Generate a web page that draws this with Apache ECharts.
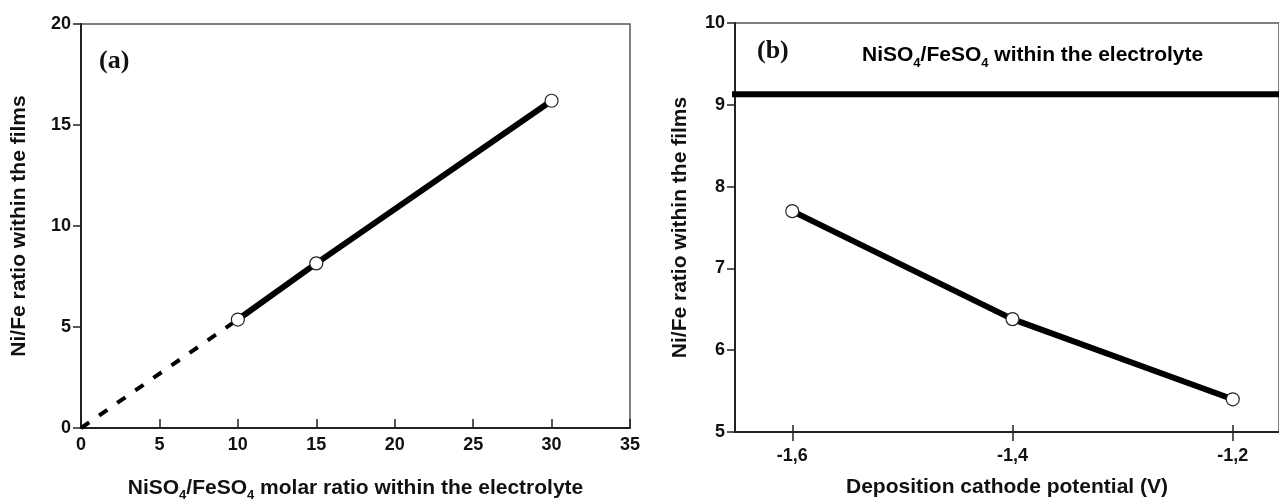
<!DOCTYPE html>
<html>
<head>
<meta charset="utf-8">
<title>NiFe films</title>
<script src="https://cdn.jsdelivr.net/npm/echarts@6/dist/echarts.min.js"></script>
<style>
  html, body { margin: 0; padding: 0; background: #fff; }
  #chart { width: 1279px; height: 500px; }
</style>
</head>
<body>
<div id="chart"></div>
<script>
  // panel (a): bath ratio vs film ratio
  var bathRatio = [10, 15, 30];
  var filmRatioA = [5.37, 8.15, 16.2];
  var dashedX = [0, 10];
  var dashedY = [0, 5.37];

  // panel (b): cathode potential vs film ratio
  var potential = [-1.6, -1.4, -1.2];
  var filmRatioB = [7.70, 6.38, 5.40];
  var potentialTicks = [-1.6, -1.4, -1.2];
  var electrolyteRatio = 9.13;
  var refLineX = [-1.656, -1.15];

  var tickFont = { color: '#111', fontSize: 18, fontWeight: 'bold', fontFamily: 'Liberation Sans Narrow, Liberation Sans, Arial' };
  var titleFont = { fontSize: 21, fontWeight: 'bold', fontFamily: 'Liberation Sans, Arial', color: '#111' };
  var rich = {
    b: { fontSize: 21, fontWeight: 'bold', fontFamily: 'Liberation Sans, Arial', color: '#111', lineHeight: 28, verticalAlign: 'middle' },
    s: { fontSize: 13, fontWeight: 'bold', fontFamily: 'Liberation Sans, Arial', color: '#111', lineHeight: 12, verticalAlign: 'bottom' }
  };

  function zip(xs, ys) {
    return xs.map(function (x, i) { return [x, ys[i]]; });
  }

  var chart = echarts.init(document.getElementById('chart'));
  chart.setOption({
    animation: false,
    grid: [
      { left: 81, right: 649, top: 24, bottom: 72, outerBoundsMode: 'none', show: true, borderColor: '#555', borderWidth: 1.5 },
      { left: 735, right: 0, top: 23, bottom: 68, outerBoundsMode: 'none', show: true, borderColor: '#555', borderWidth: 1.5 }
    ],
    xAxis: [
      {
        gridIndex: 0, type: 'value', min: 0, max: 35, interval: 5,
        splitLine: { show: false },
        axisLine: { lineStyle: { color: '#222', width: 2 } },
        axisTick: { inside: true, length: 9, lineStyle: { color: '#222', width: 1.5 } },
        axisLabel: Object.assign({}, tickFont, { margin: 8 }),
        name: '{b|NiSO}{s|4}{b|/FeSO}{s|4}{b| molar ratio within the electrolyte}',
        nameLocation: 'middle', nameGap: 46,
        nameTextStyle: { rich: rich }
      },
      {
        gridIndex: 1, type: 'value', min: -1.652, max: -1.158, position: 'bottom',
        splitLine: { show: false },
        axisLine: { lineStyle: { color: '#222', width: 2 } },
        axisTick: { customValues: potentialTicks, length: 9, lineStyle: { color: '#222', width: 1.5 } },
        axisLabel: Object.assign({}, tickFont, {
          margin: 15,
          customValues: potentialTicks,
          formatter: function (v) { return v.toFixed(1).replace('.', ','); }
        }),
        name: 'Deposition cathode potential (V)',
        nameLocation: 'middle', nameGap: 45,
        nameTextStyle: titleFont
      },
      {
        // inner half of the crossing ticks in (b)
        gridIndex: 1, type: 'value', min: -1.652, max: -1.158, position: 'bottom', offset: 0,
        splitLine: { show: false },
        axisLine: { show: false },
        axisTick: { customValues: potentialTicks, inside: true, length: 7, lineStyle: { color: '#222', width: 1.5 } },
        axisLabel: { show: false }
      }
    ],
    yAxis: [
      {
        gridIndex: 0, type: 'value', min: 0, max: 20, interval: 5,
        splitLine: { show: false },
        axisLine: { lineStyle: { color: '#222', width: 2 } },
        axisTick: { length: 8, lineStyle: { color: '#222', width: 1.5 } },
        axisLabel: Object.assign({}, tickFont, { margin: 10 }),
        name: 'Ni/Fe ratio within the films',
        nameLocation: 'middle', nameGap: 51,
        nameTextStyle: titleFont
      },
      {
        gridIndex: 1, type: 'value', min: 5, max: 10, interval: 1,
        splitLine: { show: false },
        axisLine: { lineStyle: { color: '#222', width: 2 } },
        axisTick: { length: 8, lineStyle: { color: '#222', width: 1.5 } },
        axisLabel: Object.assign({}, tickFont, { margin: 10 }),
        name: 'Ni/Fe ratio within the films',
        nameLocation: 'middle', nameGap: 44,
        nameTextStyle: titleFont
      }
    ],
    graphic: [
      { type: 'text', left: 99, top: 48, style: { text: '(a)', font: 'bold 26px "Liberation Serif", serif', fill: '#111' } },
      { type: 'text', left: 757, top: 38, style: { text: '(b)', font: 'bold 26px "Liberation Serif", serif', fill: '#111' } },
      {
        type: 'text', left: 862, top: 45,
        style: {
          text: '{b|NiSO}{s|4}{b|/FeSO}{s|4}{b| within the electrolyte}',
          rich: rich
        }
      }
    ],
    series: [
      {
        type: 'line', xAxisIndex: 0, yAxisIndex: 0,
        data: zip(dashedX, dashedY),
        showSymbol: false,
        lineStyle: { color: '#000', width: 4, type: [10, 12] }
      },
      {
        type: 'line', xAxisIndex: 0, yAxisIndex: 0,
        data: zip(bathRatio, filmRatioA),
        symbol: 'circle', symbolSize: 13,
        lineStyle: { color: '#000', width: 6 },
        itemStyle: { color: '#fff', borderColor: '#222', borderWidth: 1.2 }
      },
      {
        type: 'line', xAxisIndex: 1, yAxisIndex: 1,
        data: refLineX.map(function (x) { return [x, electrolyteRatio]; }),
        showSymbol: false, clip: false,
        lineStyle: { color: '#000', width: 6 }
      },
      {
        type: 'line', xAxisIndex: 1, yAxisIndex: 1,
        data: zip(potential, filmRatioB),
        symbol: 'circle', symbolSize: 13,
        lineStyle: { color: '#000', width: 6 },
        itemStyle: { color: '#fff', borderColor: '#222', borderWidth: 1.2 }
      }
    ]
  });
</script>
</body>
</html>
